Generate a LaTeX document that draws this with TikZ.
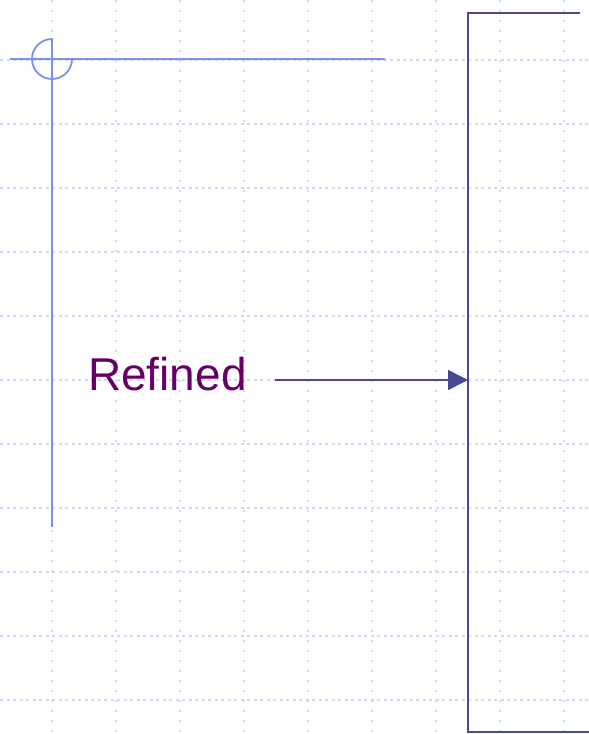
\documentclass[tikz,border=0pt]{standalone}
\usepackage{fontspec}
\setmainfont{Liberation Sans}
\usetikzlibrary{arrows.meta}
\definecolor{gridc}{HTML}{CCD8F8}
\definecolor{axisc}{HTML}{7B8FF0}
\definecolor{boxc}{HTML}{464A94}
\definecolor{textc}{HTML}{660066}
\tikzset{
  hgrid/.style={gridc, line width=1.3pt, dash pattern=on 3pt off 3.5pt},
  vgrid/.style={gridc, line width=1.3pt, dash pattern=on 2pt off 8pt},
  axis/.style={axisc, line width=1.8pt},
  boxline/.style={boxc, line width=2pt},
  conn/.style={boxc, line width=1.6pt, -{Triangle[length=20pt,width=20pt]}},
  lbl/.style={textc, font=\fontsize{46}{50}\selectfont, inner sep=0pt, anchor=base west}
}
\begin{document}
\begin{tikzpicture}[x=1pt,y=-1pt]
\useasboundingbox (0,0) rectangle (589,734);
% grid
\foreach \y in {60,124,...,700} \draw[hgrid] (0,\y) -- (589,\y);
\foreach \x in {52,116,...,564} \draw[vgrid] (\x,0) -- (\x,734);
% axes
\draw[axis] (10,59) -- (385,59);
\draw[axis] (52,38) -- (52,527);
\draw[axis] (52,39) arc[start angle=-90, end angle=-360, radius=20];
% box
\draw[boxline] (580,13) -- (468,13) -- (468,732) -- (589,732);
\coordinate (boxpt) at (468,380);
\coordinate (start) at (275,380);
\node[lbl] (refined) at (88,390) {Refined};
\draw[conn] (start) -- (boxpt);
\end{tikzpicture}
\end{document}
